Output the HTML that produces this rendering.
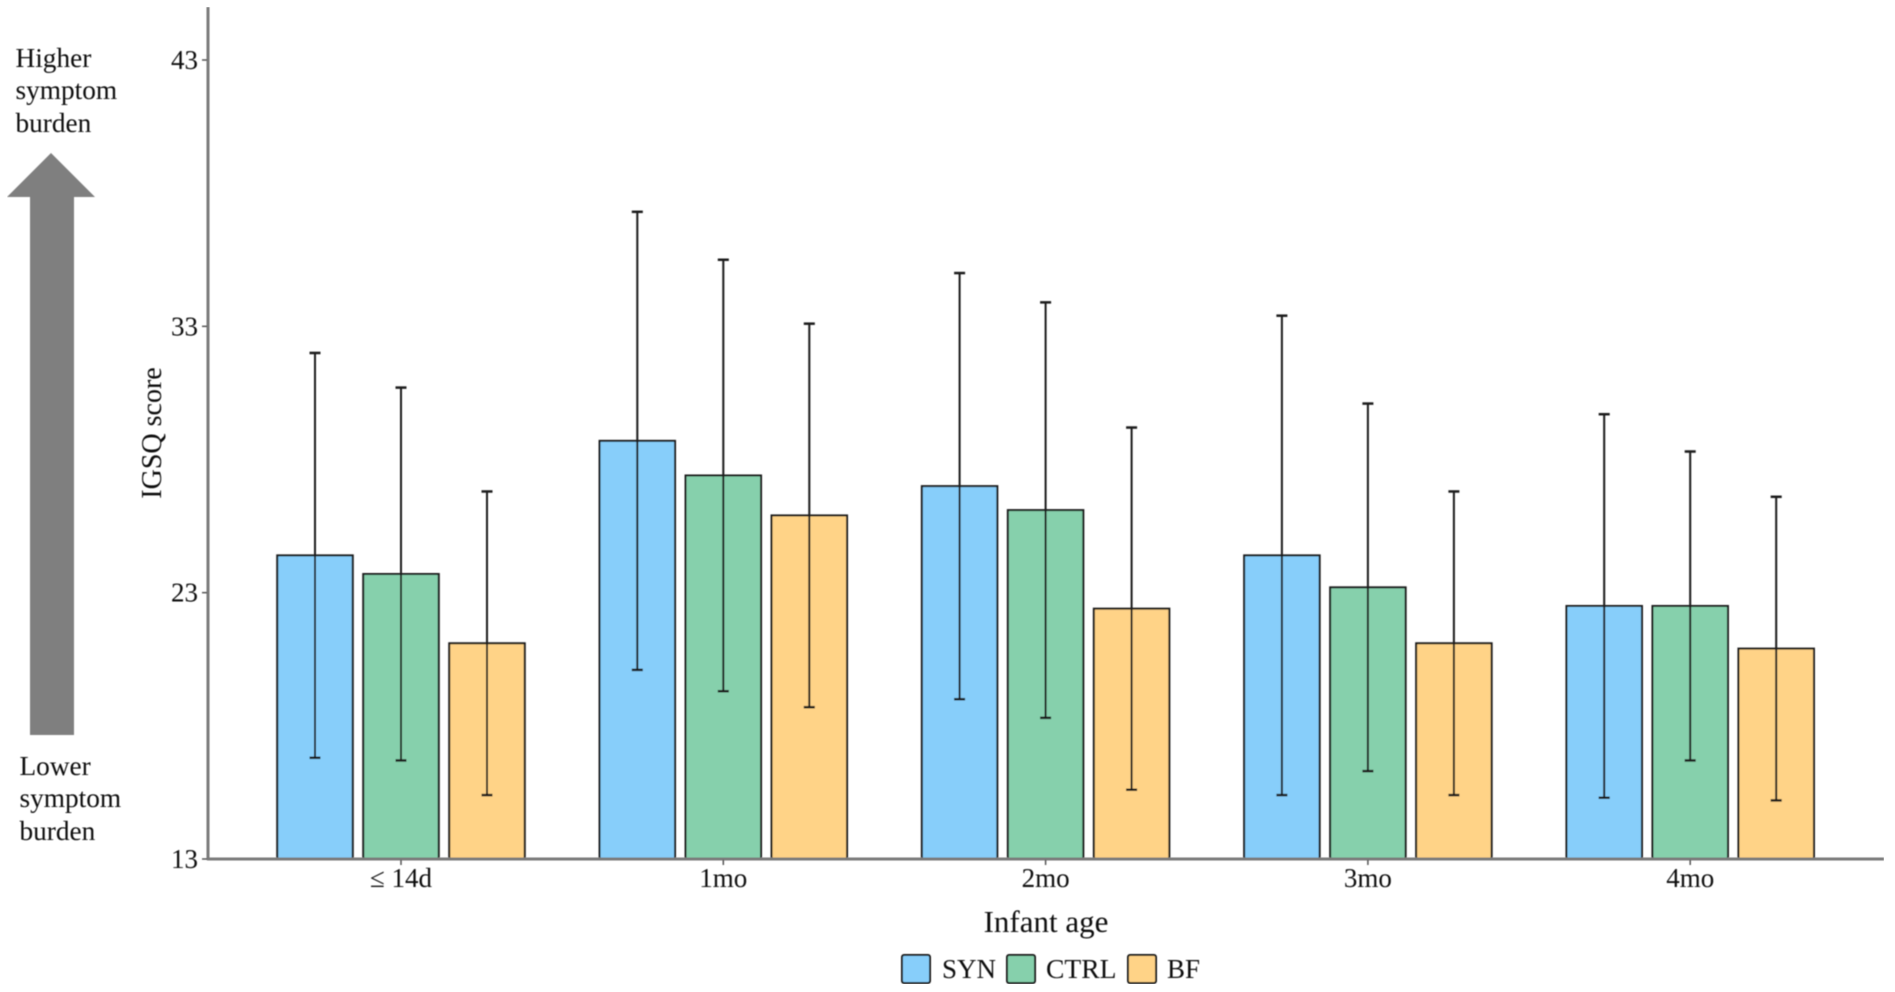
<!DOCTYPE html>
<html lang="en">
<head>
<meta charset="utf-8">
<title>IGSQ score by infant age</title>
<style>
html,body{margin:0;padding:0;background:#fff;}
body{width:1895px;height:992px;overflow:hidden;}
svg{display:block;}
text{font-family:"Liberation Serif",serif;fill:#111;}
</style>
</head>
<body>
<svg id="chart" xmlns="http://www.w3.org/2000/svg" width="1895" height="992" viewBox="0 0 1895 992">
  <defs>
    <filter id="soft" x="0" y="0" width="100%" height="100%" filterUnits="objectBoundingBox">
      <feGaussianBlur stdDeviation="0.55"/>
    </filter>
  </defs>
  <rect x="0" y="0" width="1895" height="992" fill="#ffffff"/>
  <g id="root" filter="url(#soft)">
    <g id="marks"></g>
    <line x1="208" y1="7" x2="208" y2="860" stroke="#7a7a7a" stroke-width="3"/>
    <line x1="207" y1="859" x2="1884" y2="859" stroke="#7a7a7a" stroke-width="3"/>
    <g id="axes"></g>

    <text transform="translate(161 433) rotate(-90)" text-anchor="middle" font-size="28">IGSQ score</text>
    <text x="1046" y="932" text-anchor="middle" font-size="31">Infant age</text>

    <polygon points="51,153 95,197 74,197 74,735 30,735 30,197 7,197" fill="#7f7f7f"/>
    <text font-size="27.3">
      <tspan x="15.5" y="67">Higher</tspan>
      <tspan x="15.5" y="99">symptom</tspan>
      <tspan x="15.5" y="132">burden</tspan>
    </text>
    <text font-size="27.3">
      <tspan x="19.5" y="775">Lower</tspan>
      <tspan x="19.5" y="807">symptom</tspan>
      <tspan x="19.5" y="840">burden</tspan>
    </text>

    <g>
      <rect x="902" y="955" width="28" height="28" rx="2" fill="#87CEFA" stroke="#1a1a1a" stroke-width="2"/>
      <text x="942" y="978" font-size="27">SYN</text>
      <rect x="1007" y="955" width="28" height="28" rx="2" fill="#86D0AC" stroke="#1a1a1a" stroke-width="2"/>
      <text x="1046" y="978" font-size="27.6">CTRL</text>
      <rect x="1128" y="955" width="28" height="28" rx="2" fill="#FFD387" stroke="#1a1a1a" stroke-width="2"/>
      <text x="1167" y="978" font-size="27">BF</text>
    </g>
  </g>
</svg>
<script>
var categories = ['\u2264 14d', '1mo', '2mo', '3mo', '4mo'];
var seriesNames = ['SYN', 'CTRL', 'BF'];
var yTickValues = [13, 23, 33, 43];

var synMeans = [24.4, 28.7, 27.0, 24.4, 22.5];
var ctrlMeans = [23.7, 27.4, 26.1, 23.2, 22.5];
var bfMeans = [21.1, 25.9, 22.4, 21.1, 20.9];

var synUpper = [32.0, 37.3, 35.0, 33.4, 29.7];
var ctrlUpper = [30.7, 35.5, 33.9, 30.1, 28.3];
var bfUpper = [26.8, 33.1, 29.2, 26.8, 26.6];

var synLower = [16.8, 20.1, 19.0, 15.4, 15.3];
var ctrlLower = [16.7, 19.3, 18.3, 16.3, 16.7];
var bfLower = [15.4, 18.7, 15.6, 15.4, 15.2];

var means = [synMeans, ctrlMeans, bfMeans];
var uppers = [synUpper, ctrlUpper, bfUpper];
var lowers = [synLower, ctrlLower, bfLower];
var fills = ['#87CEFA', '#86D0AC', '#FFD387'];

var NS = 'http://www.w3.org/2000/svg';
var marks = document.getElementById('marks');
var axes = document.getElementById('axes');

function yScale(v) {
  return 859 - (v - 13) * (799 / 30);
}
function xBand(i) {
  return 401 + i * 322.3;
}
function xDodge(i, s) {
  return xBand(i) + (s - 1) * 86;
}
function make(tag, parent, attrs) {
  var node = document.createElementNS(NS, tag);
  for (var k in attrs) {
    node.setAttribute(k, attrs[k]);
  }
  parent.appendChild(node);
  return node;
}

var barWidth = 75.5;
var capHalf = 5.5;

categories.forEach(function (cat, i) {
  seriesNames.forEach(function (name, s) {
    var cx = xDodge(i, s);
    var top = yScale(means[s][i]);
    var bar = make('rect', marks, {
      x: cx - barWidth / 2,
      y: top,
      width: barWidth,
      height: yScale(13) - top,
      fill: fills[s],
      stroke: '#1a1a1a',
      'stroke-width': 2
    });
    
    

    var up = yScale(uppers[s][i]);
    var low = yScale(lowers[s][i]);
    var stem = make('line', marks, {
      x1: cx, x2: cx, y1: up, y2: low,
      stroke: '#1a1a1a', 'stroke-width': 2
    });
    
    

    var capTop = make('line', marks, {
      x1: cx - capHalf, x2: cx + capHalf, y1: up, y2: up,
      stroke: '#1a1a1a', 'stroke-width': 2.5
    });
    
    

    var capLow = make('line', marks, {
      x1: cx - capHalf, x2: cx + capHalf, y1: low, y2: low,
      stroke: '#1a1a1a', 'stroke-width': 2.5
    });
    
    
  });

  var tick = make('line', axes, {
    x1: xBand(i), x2: xBand(i), y1: 860, y2: 865,
    stroke: '#555', 'stroke-width': 1.5
  });
  
  

  var label = make('text', axes, {
    x: xBand(i), y: 887, 'text-anchor': 'middle', 'font-size': 27
  });
  
  
  label.textContent = cat;
});

yTickValues.forEach(function (v) {
  var y = yScale(v);
  var tick = make('line', axes, {
    x1: 202, x2: 207, y1: y, y2: y,
    stroke: '#555', 'stroke-width': 1.5
  });
  
  

  var label = make('text', axes, {
    x: 198, y: y + 9, 'text-anchor': 'end', 'font-size': 27
  });
  
  
  label.textContent = String(v);
});
</script>
</body>
</html>
